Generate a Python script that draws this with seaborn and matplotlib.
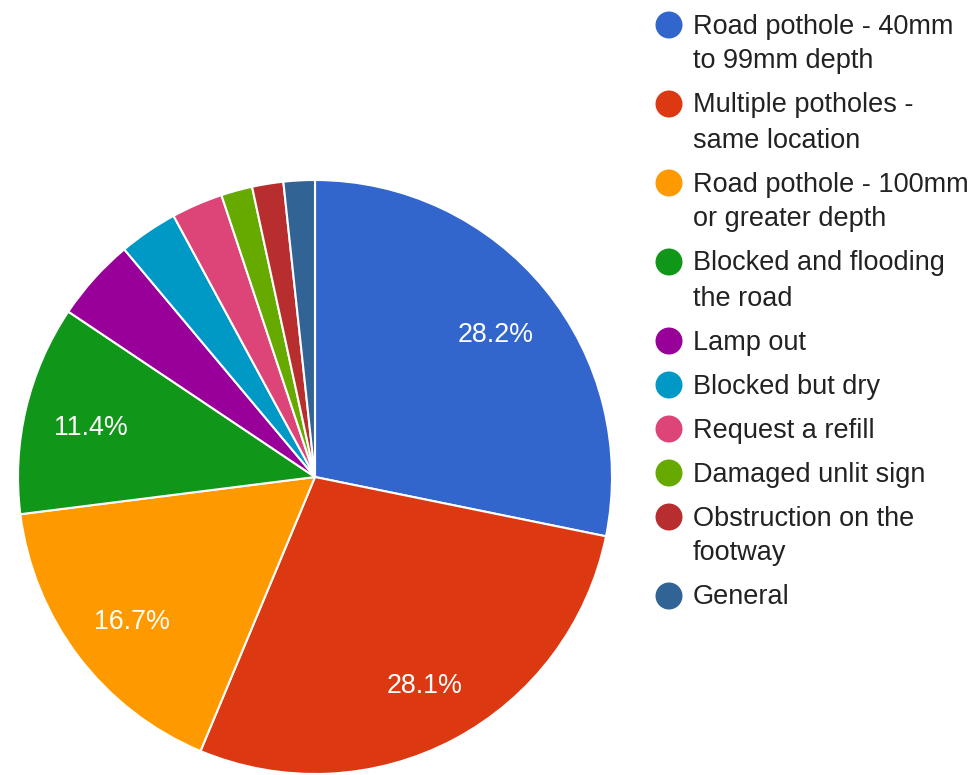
import matplotlib
matplotlib.use("Agg")
import matplotlib.pyplot as plt
import matplotlib.transforms as mtransforms
import seaborn as sns
from matplotlib.patches import Circle

categories = [
    "Road pothole - 40mm\nto 99mm depth",
    "Multiple potholes -\nsame location",
    "Road pothole - 100mm\nor greater depth",
    "Blocked and flooding\nthe road",
    "Lamp out",
    "Blocked but dry",
    "Request a refill",
    "Damaged unlit sign",
    "Obstruction on the\nfootway",
    "General",
]
values = [28.2, 28.1, 16.7, 11.4, 4.5, 3.2, 2.8, 1.7, 1.7, 1.7]
colors = ["#3366cc", "#dc3912", "#ff9900", "#109618", "#990099",
          "#0099c6", "#dd4477", "#66aa00", "#b82e2e", "#316395"]

sns.set_theme(style="white")
plt.rcParams["font.family"] = ["Liberation Sans", "DejaVu Sans"]

W, H = 977, 775
fig = plt.figure(figsize=(W / 100, H / 100), dpi=100)
fig.patch.set_facecolor("white")

cx, cy, r = 315, 477, 297
ax = fig.add_axes([(cx - r) / W, (H - cy - r) / H, 2 * r / W, 2 * r / H])
palette = sns.color_palette(colors)

def fmt(p):
    return f"{p:.1f}%" if p >= 8 else ""

wedges, texts, autotexts = ax.pie(
    values, colors=palette, startangle=90, counterclock=False,
    autopct=fmt, pctdistance=0.78,
    wedgeprops=dict(edgecolor="white", linewidth=1.5),
    textprops=dict(color="white", fontsize=19.3),
    radius=1.0,
)
for t in autotexts:
    t.set_transform(mtransforms.offset_copy(ax.transData, fig=fig, x=1, y=-4.5, units="dots"))
ax.set_xlim(-1.0, 1.0)
ax.set_ylim(-1.0, 1.0)
ax.set_aspect("equal")
ax.axis("off")

# legend drawn in pixel coordinates
lax = fig.add_axes([0, 0, 1, 1])
lax.set_xlim(0, W)
lax.set_ylim(H, 0)
lax.axis("off")

y = 24
for lab, col in zip(categories, colors):
    lines = lab.split("\n")
    lax.add_patch(Circle((669, y + 1), 13.5, color=col, lw=0))
    for i, ln in enumerate(lines):
        lax.text(693, y + 9.5 + 35 * i, ln, fontsize=19.5, color="#222222",
                 va="baseline", ha="left")
    y += 44 + 35 * (len(lines) - 1)

fig.savefig("out.png", dpi=100, facecolor="white")
